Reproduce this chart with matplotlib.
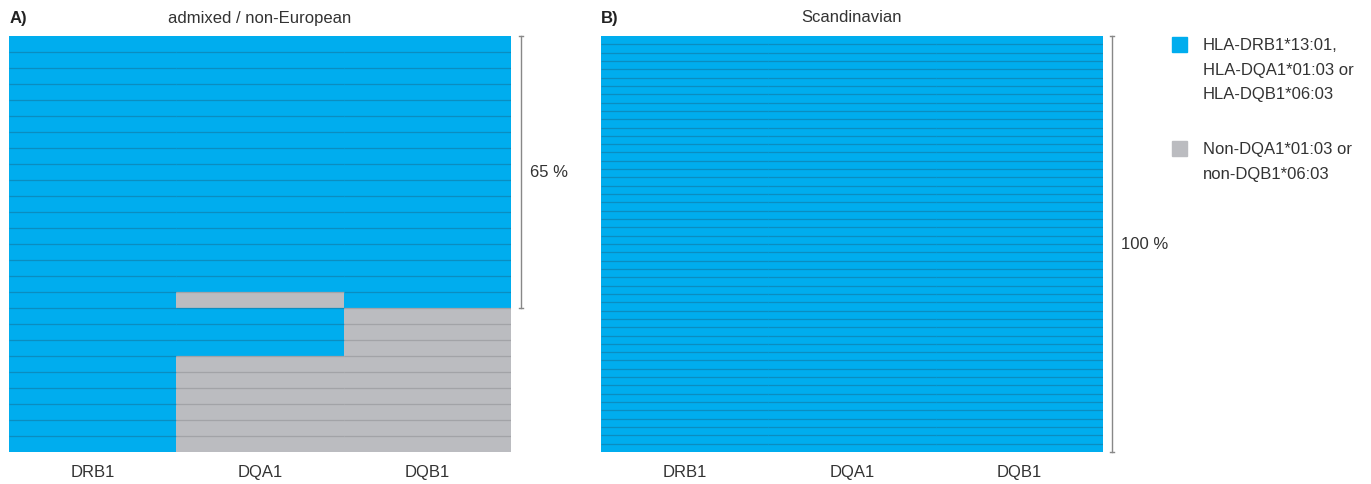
import matplotlib.pyplot as plt

plt.rcParams['font.family'] = ['Liberation Sans', 'DejaVu Sans']

# 1 = HLA-DRB1*13:01 / DQA1*01:03 / DQB1*06:03, 0 = non-DQA1*01:03 / non-DQB1*06:03
genes = ["DRB1", "DQA1", "DQB1"]
admixed_drb1 = [1] * 26
admixed_dqa1 = [1] * 16 + [0] + [1, 1, 1] + [0] * 6
admixed_dqb1 = [1] * 16 + [1] + [0, 0, 0] + [0] * 6
n_scand = 50
scand_drb1 = [1] * n_scand
scand_dqa1 = [1] * n_scand
scand_dqb1 = [1] * n_scand

admixed_all_pos = 17   # rows under the 65 % bracket
admixed_label = "65 %"
scand_label = "100 %"

blue = '#00adee'
blue_line = '#0b8dc0'
grey = '#bbbcc0'
grey_line = '#a2a3a7'
txt = '#333333'
fs = 12

W, H = 1371, 485
fig = plt.figure(figsize=(W / 100, H / 100), dpi=100)


def draw_panel(ax, cols):
    n = len(cols[0])
    for c, col in enumerate(cols):
        for r, v in enumerate(col):
            ax.bar(c + 0.5, 1, bottom=r, width=1, color=blue if v else grey,
                   edgecolor='none', linewidth=0)
            if r > 0:
                ax.hlines(r, c, c + 1, color=blue_line if v else grey_line, linewidth=0.9)
    ax.set_xlim(0, 3)
    ax.set_ylim(n, 0)
    ax.set_xticks([0.5, 1.5, 2.5])
    ax.set_xticklabels(genes, fontsize=fs, color=txt)
    ax.tick_params(axis='x', length=0, pad=9)
    ax.set_yticks([])
    for s in ax.spines.values():
        s.set_visible(False)
    return n


def bracket(ax, x, y0, y1, label, xl):
    ax.plot([x, x], [y0, y1], color='#888888', linewidth=1, clip_on=False)
    ax.plot([x - 0.012, x + 0.012], [y0, y0], color='#888888', linewidth=1, clip_on=False)
    ax.plot([x - 0.012, x + 0.012], [y1, y1], color='#888888', linewidth=1, clip_on=False)
    ax.text(xl, (y0 + y1) / 2, label, fontsize=fs, color=txt, va='center', ha='left',
            clip_on=False)


axA = fig.add_axes([9 / W, (H - 453) / H, 502 / W, 416 / H])
nA = draw_panel(axA, [admixed_drb1, admixed_dqa1, admixed_dqb1])
bracket(axA, 3.06, 0, admixed_all_pos, admixed_label, 3.115)

axB = fig.add_axes([601 / W, (H - 453) / H, 502 / W, 416 / H])
nB = draw_panel(axB, [scand_drb1, scand_dqa1, scand_dqb1])
bracket(axB, 3.055, 0, nB, scand_label, 3.11)

fig.text(10 / W, 1 - 18 / H, "A)", fontsize=fs, fontweight='bold', color='#222222', va='center')
fig.text(260 / W, 1 - 18 / H, "admixed / non-European", fontsize=fs, color=txt,
         ha='center', va='center')
fig.text(601 / W, 1 - 18 / H, "B)", fontsize=fs, fontweight='bold', color='#222222', va='center')
fig.text(852 / W, 1 - 18 / H, "Scandinavian", fontsize=fs, color=txt,
         ha='center', va='center')

# legend
fig.patches.append(plt.Rectangle((1172 / W, 1 - 53 / H), 15 / W, 15 / H, color=blue,
                                 transform=fig.transFigure))
fig.text(1203 / W, 1 - 38 / H, "HLA-DRB1*13:01,\nHLA-DQA1*01:03 or\nHLA-DQB1*06:03",
         fontsize=fs, color=txt, va='top', linespacing=1.8)
fig.patches.append(plt.Rectangle((1172 / W, 1 - 157 / H), 15 / W, 15 / H, color=grey,
                                 transform=fig.transFigure))
fig.text(1203 / W, 1 - 142 / H, "Non-DQA1*01:03 or\nnon-DQB1*06:03",
         fontsize=fs, color=txt, va='top', linespacing=1.8)

fig.savefig("out.png", dpi=100)
